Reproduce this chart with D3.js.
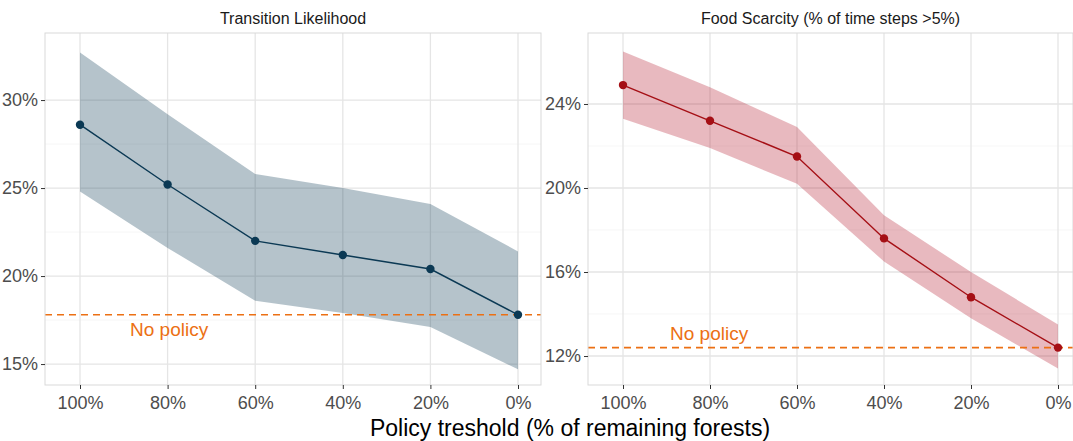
<!DOCTYPE html>
<html><head><meta charset="utf-8">
<script src="https://cdn.jsdelivr.net/npm/d3@7"></script>
<style>body{margin:0;background:#fff}svg{font-family:"Liberation Sans",Arial,sans-serif}</style>
</head><body><svg id="chart" width="1073" height="441"></svg>
<script>
const thresholds = ['100%', '80%', '60%', '40%', '20%', '0%']

const transMean = [28.6, 25.2, 22.0, 21.2, 20.4, 17.8]
const transHigh = [32.7, 29.2, 25.8, 25.0, 24.1, 21.4]
const transLow = [24.8, 21.6, 18.6, 17.9, 17.1, 14.7]
const transTicks = [15, 20, 25, 30]
const transNoPolicy = 17.8

const foodMean = [24.9, 23.2, 21.5, 17.6, 14.8, 12.4]
const foodHigh = [26.5, 24.8, 22.9, 18.7, 16.0, 13.5]
const foodLow = [23.3, 21.9, 20.2, 16.5, 13.8, 11.4]
const foodTicks = [12, 16, 20, 24]
const foodNoPolicy = 12.4

const svg = d3.select('svg#chart')

function panel (opt) {
  const x = d3.scalePoint().domain(thresholds).range([opt.x0 + 35, opt.x1 - opt.padR])
  const y = d3.scaleLinear().domain(opt.yDomain).range([385, 33])
  const g = svg.append('g')

  g.append('text')
    .attr('x', (opt.x0 + opt.x1) / 2).attr('y', 24)
    .attr('text-anchor', 'middle').attr('font-size', 16).attr('fill', '#1a1a1a')
    .text(opt.title)

  // grid
  g.selectAll('.hg').data(opt.ticks).enter().append('line')
    .attr('x1', opt.x0).attr('x2', opt.x1)
    .attr('y1', d => y(d)).attr('y2', d => y(d))
    .attr('stroke', '#e5e5e5').attr('stroke-width', 1.3)
  const minor = opt.ticks.slice(1).map((d, i) => (d + opt.ticks[i]) / 2)
  g.selectAll('.mg').data(minor).enter().append('line')
    .attr('x1', opt.x0).attr('x2', opt.x1)
    .attr('y1', d => y(d)).attr('y2', d => y(d))
    .attr('stroke', '#f2f2f2').attr('stroke-width', 0.7)
  g.selectAll('.vg').data(thresholds).enter().append('line')
    .attr('x1', d => x(d)).attr('x2', d => x(d))
    .attr('y1', 33).attr('y2', 385)
    .attr('stroke', '#e5e5e5').attr('stroke-width', 1.3)

  const idx = d3.range(thresholds.length)
  g.append('path')
    .datum(idx)
    .attr('d', d3.area().x(i => x(thresholds[i])).y0(i => y(opt.low[i])).y1(i => y(opt.high[i])))
    .attr('fill', opt.fill).attr('opacity', 0.3)

  g.append('line')
    .attr('x1', opt.x0).attr('x2', opt.x1)
    .attr('y1', y(opt.noPolicy)).attr('y2', y(opt.noPolicy))
    .attr('stroke', '#ec7014').attr('stroke-width', 1.6).attr('stroke-dasharray', '7,5')
  g.append('text')
    .attr('x', opt.labelX).attr('y', opt.labelY)
    .attr('font-size', 19).attr('fill', '#ec7014')
    .text('No policy')

  g.append('path')
    .datum(idx)
    .attr('d', d3.line().x(i => x(thresholds[i])).y(i => y(opt.mean[i])))
    .attr('fill', 'none').attr('stroke', opt.color).attr('stroke-width', 1.4)
  g.selectAll('.pt').data(idx).enter().append('circle')
    .attr('cx', i => x(thresholds[i])).attr('cy', i => y(opt.mean[i]))
    .attr('r', 4.2).attr('fill', opt.color)

  g.append('rect')
    .attr('x', opt.x0).attr('y', 33).attr('width', opt.x1 - opt.x0).attr('height', 352)
    .attr('fill', 'none').attr('stroke', '#d9d9d9')

  const ya = g.append('g').attr('transform', `translate(${opt.x0},0)`)
    .call(d3.axisLeft(y).tickValues(opt.ticks).tickFormat(d => d + '%').tickSize(4))
  ya.select('.domain').remove()
  ya.selectAll('line').attr('stroke', '#333')
  ya.selectAll('text').attr('font-size', 18).attr('fill', '#4d4d4d').attr('font-family', 'Liberation Sans, Arial')

  const xa = g.append('g').attr('transform', 'translate(0,385)')
    .call(d3.axisBottom(x).tickSize(4))
  xa.select('.domain').remove()
  xa.selectAll('line').attr('stroke', '#333')
  xa.selectAll('text').attr('font-size', 18).attr('fill', '#4d4d4d').attr('dy', '0.95em').attr('font-family', 'Liberation Sans, Arial')
}

panel({
  x0: 45, x1: 541, padR: 23, title: 'Transition Likelihood',
  yDomain: [13.81, 33.81], ticks: transTicks,
  mean: transMean, high: transHigh, low: transLow, noPolicy: transNoPolicy,
  color: '#0b3954', fill: '#0b3954', labelX: 130, labelY: 336
})

panel({
  x0: 588, x1: 1073, padR: 15, title: 'Food Scarcity (% of time steps >5%)',
  yDomain: [10.62, 27.38], ticks: foodTicks,
  mean: foodMean, high: foodHigh, low: foodLow, noPolicy: foodNoPolicy,
  color: '#a50f15', fill: '#b2182b', labelX: 670, labelY: 340
})

svg.append('text')
  .attr('x', 570).attr('y', 436).attr('text-anchor', 'middle')
  .attr('font-size', 23).attr('fill', '#000')
  .text('Policy treshold (% of remaining forests)')
</script></body></html>
